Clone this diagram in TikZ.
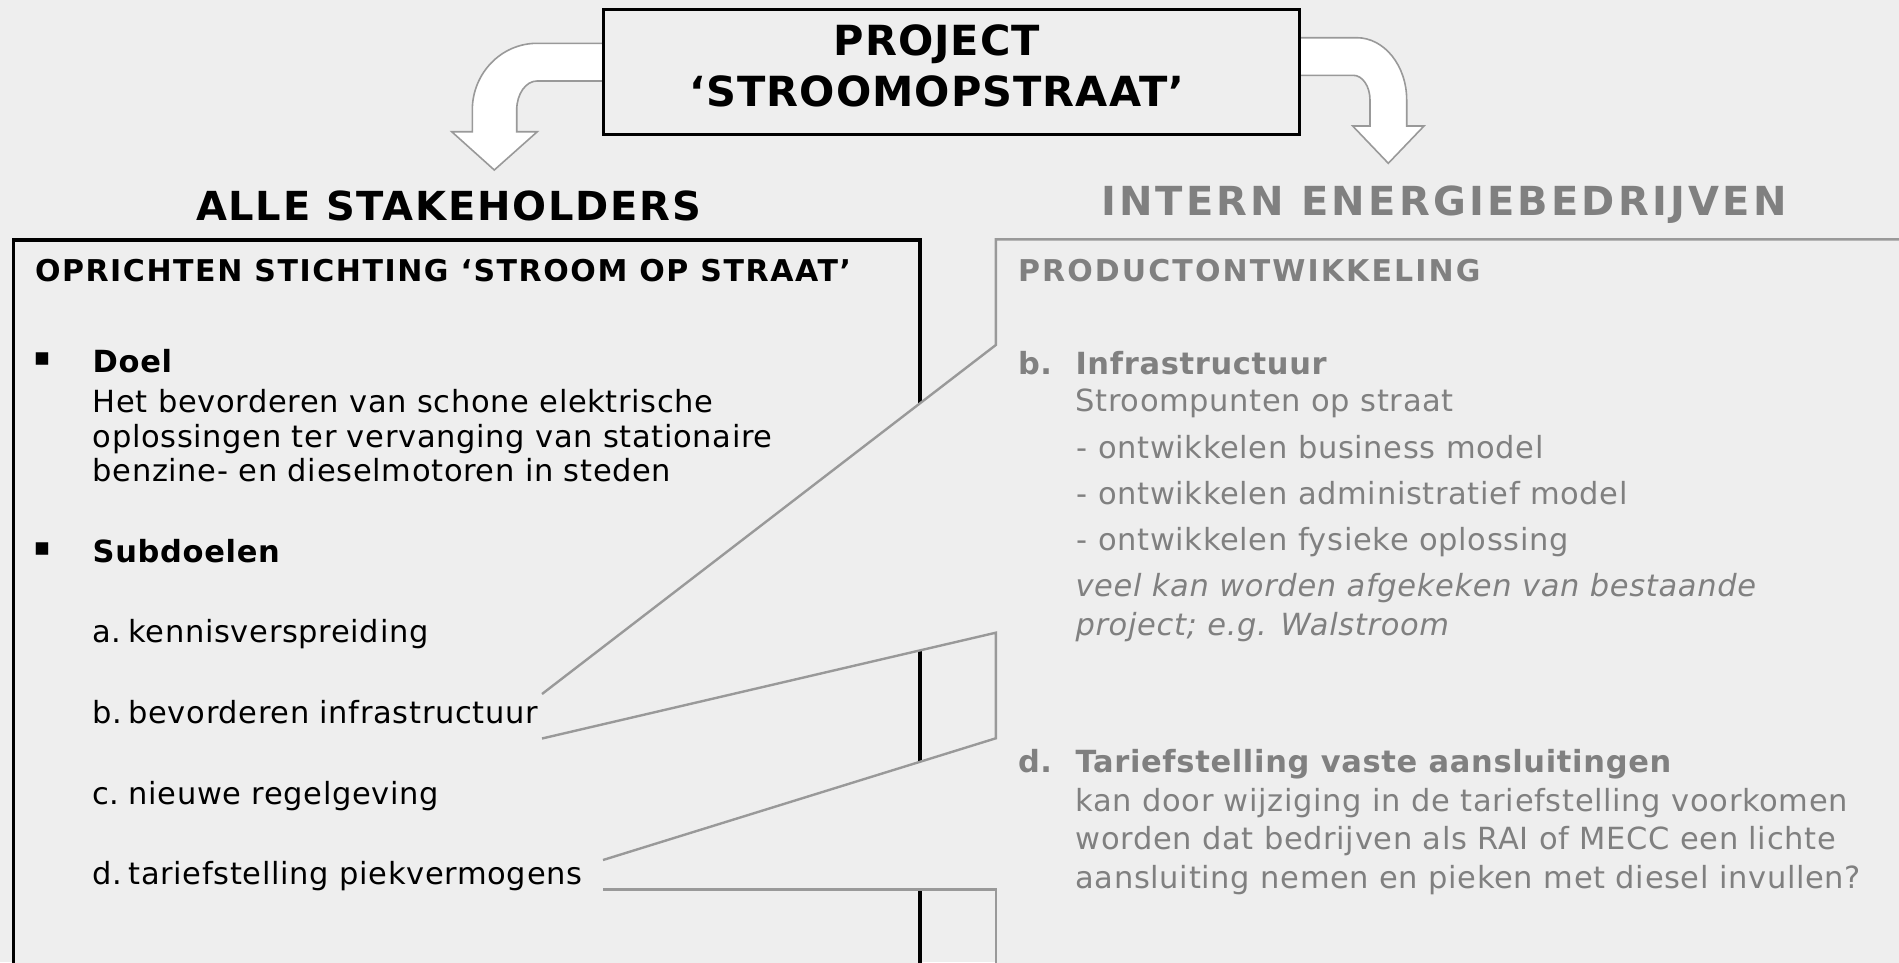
\documentclass[tikz,border=0pt]{standalone}
\usepackage{fontspec}
\setmainfont{DejaVu Sans}
\newfontfamily\regfont[LetterSpace=2.2]{DejaVu Sans}
\newfontfamily\headfont[LetterSpace=5.2]{DejaVu Sans}
\newfontfamily\prodfont[LetterSpace=7]{DejaVu Sans}
\newfontfamily\stakefont[LetterSpace=4.4]{DejaVu Sans}
\newfontfamily\internfont[LetterSpace=8]{DejaVu Sans}
\newfontfamily\projfont[LetterSpace=2.5]{DejaVu Sans}
\definecolor{bg}{HTML}{EEEEEE}
\definecolor{txtgray}{HTML}{808080}
\definecolor{linegray}{HTML}{999999}
\begin{document}
\begin{tikzpicture}[x=1pt,y=-1pt,
  every node/.style={inner sep=0pt, outer sep=0pt},
  body/.style={anchor=base west, font=\fontsize{30.5}{34.5}\selectfont\regfont},
  bodyb/.style={anchor=base west, font=\fontsize{30.5}{34.5}\selectfont\regfont\bfseries},
  bodyi/.style={anchor=base west, font=\fontsize{30.5}{34.5}\selectfont\regfont\itshape},
  gtext/.style={text=txtgray},
  gline/.style={draw=linegray, line width=2.4pt, line join=miter},
  blockarrow/.style={draw=linegray, line width=1.6pt, fill=white, line join=miter},
  blackbox/.style={draw=black, line width=3.3pt, fill=bg},
  bulletmark/.style={font=\fontsize{25}{25}\selectfont}
]
\useasboundingbox (0,0) rectangle (1899,962);
\fill[bg] (0,0) rectangle (1899,962);

% ---- curved block arrows from the project box
\draw[blockarrow] (610,43.3) -- (537,43.3)
  .. controls (501.3,43.3) and (472.3,73.2) .. (472.3,110)
  -- (472.3,131.7) -- (451.7,131.7) -- (494.3,170) -- (537.3,131.7)
  -- (516.7,131.7) -- (516.7,110)
  .. controls (516.7,94) and (525.8,81) .. (537,81) -- (610,81);
\draw[blockarrow] (1290,37.7) -- (1356.7,37.7)
  .. controls (1384.3,37.7) and (1406.7,65.6) .. (1406.7,100)
  -- (1406.7,126) -- (1424,126) -- (1388.3,163.3) -- (1352.7,126)
  -- (1370,126) -- (1370,100)
  .. controls (1370,86.4) and (1362.5,75.3) .. (1353.3,75.3) -- (1290,75.3);

% ---- project box
\node[blackbox, anchor=north west, minimum width=696pt, minimum height=125pt] (proj) at (603.3,9.3) {};
\node[anchor=base, font=\fontsize{41.5}{44}\selectfont\projfont\bfseries] (projA) at (937,55) {PROJECT};
\node[anchor=base, font=\fontsize{41.5}{44}\selectfont\projfont\bfseries] (projB) at (937,106) {‘STROOMOPSTRAAT’};

% ---- column titles
\node[anchor=base west, font=\fontsize{40}{42}\selectfont\stakefont\bfseries] (stake) at (196,220.7) {ALLE STAKEHOLDERS};
\node[anchor=base west, text=txtgray, font=\fontsize{40}{42}\selectfont\internfont\bfseries] (intern) at (1101,215) {INTERN ENERGIEBEDRIJVEN};

% ---- left box
\draw[blackbox] (13.5,240) rectangle (920,990);

% ---- grey callout box with two pointers
\coordinate (cTL) at (995.8,239.3);
\coordinate (cP1) at (995.8,345);
\coordinate (w1a) at (542,694);
\coordinate (w1b) at (542,738.5);
\coordinate (cP2) at (995.8,632.7);
\coordinate (cP3) at (995.8,738.3);
\coordinate (w2a) at (603,860);
\coordinate (w2b) at (603,889.3);
\coordinate (cP4) at (995.8,889.3);
\coordinate (cBot) at (995.8,990);
\coordinate (cTR) at (1910,239.3);
\fill[bg] (cTR) -- (cTL) -- (cP1) -- (w1a) -- (w1b) -- (cP2) -- (cP3) -- (w2a) -- (w2b) -- (cP4) -- (cBot) -- (1910,990) -- cycle;
\draw[gline] (cTR) -- (cTL) -- (cP1) -- (w1a);
\draw[gline] (w1b) -- (cP2) -- (cP3) -- (w2a);
\draw[gline] (w2b) -- (cP4) -- (cBot);

% ---- left box text
\node[anchor=base west, font=\fontsize{30}{34}\selectfont\headfont\bfseries] (lhead) at (35,281.7) {OPRICHTEN STICHTING ‘STROOM OP STRAAT’};
\node[bulletmark] (bul1) at (42,359) {▪};
\node[bodyb] (doel) at (92.7,372.7) {Doel};
\node[body] (doel1) at (92.7,412.7) {Het bevorderen van schone elektrische};
\node[body] (doel2) at (92.7,447.2) {oplossingen ter vervanging van stationaire};
\node[body] (doel3) at (92.7,481.7) {benzine- en dieselmotoren in steden};
\node[bulletmark] (bul2) at (42,549) {▪};
\node[bodyb] (sub) at (92.7,562.7) {Subdoelen};
\node[body] (la) at (92,642.7) {a.};
\node[body] (lat) at (128.5,642.7) {kennisverspreiding};
\node[body] (lb) at (92,723.5) {b.};
\node[body] (lbt) at (128.5,723.5) {bevorderen infrastructuur};
\node[body] (lc) at (92,804) {c.};
\node[body] (lct) at (128.5,804) {nieuwe regelgeving};
\node[body] (ld) at (92,884.5) {d.};
\node[body] (ldt) at (128.5,884.5) {tariefstelling piekvermogens};

% ---- right box text
\node[anchor=base west, text=txtgray, font=\fontsize{30}{34}\selectfont\prodfont\bfseries] (rhead) at (1018,281.7) {PRODUCTONTWIKKELING};
\node[bodyb, gtext] (rb) at (1018,374.3) {b.};
\node[bodyb, gtext] (rbt) at (1075.5,374.3) {Infrastructuur};
\node[body, gtext] (rb1) at (1075.5,411.7) {Stroompunten op straat};
\node[body, gtext] (rb2) at (1076.7,458.3) {- ontwikkelen business model};
\node[body, gtext] (rb3) at (1076.7,504) {- ontwikkelen administratief model};
\node[body, gtext] (rb4) at (1076.7,550) {- ontwikkelen fysieke oplossing};
\node[bodyi, gtext] (rb5) at (1075.5,596) {veel kan worden afgekeken van bestaande};
\node[bodyi, gtext] (rb6) at (1075.5,635) {project;  e.g. Walstroom};
\node[bodyb, gtext] (rd) at (1018,772.7) {d.};
\node[bodyb, gtext] (rdt) at (1075.5,772.7) {Tariefstelling vaste aansluitingen};
\node[body, gtext] (rd1) at (1075.5,811.7) {kan door wijziging in de tariefstelling voorkomen};
\node[body, gtext] (rd2) at (1075.5,849.3) {worden dat bedrijven als RAI of MECC een lichte};
\node[body, gtext] (rd3) at (1075.5,888.3) {aansluiting nemen en pieken met diesel invullen?};
\end{tikzpicture}
\end{document}
